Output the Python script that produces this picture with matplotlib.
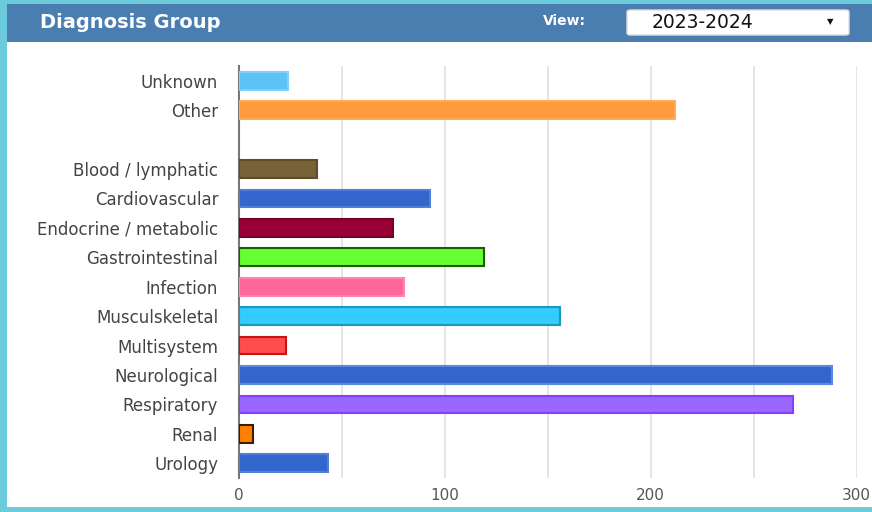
import matplotlib.pyplot as plt
from matplotlib.patches import Rectangle, FancyBboxPatch

# Data
categories = ["Unknown", "Other", "", "Blood / lymphatic", "Cardiovascular",
              "Endocrine / metabolic", "Gastrointestinal", "Infection",
              "Musculskeletal", "Multisystem", "Neurological", "Respiratory",
              "Renal", "Urology"]
values = [24, 212, 0, 38, 93, 75, 119, 80, 156, 23, 288, 269, 7, 43]
colors = ["#5cc2f7", "#ff9b3d", "none", "#786238", "#3366cc", "#990036",
          "#66ff33", "#ff6699", "#33ccff", "#ff4d4d", "#3366cc", "#9966ff",
          "#ff8000", "#3366cc"]
edges = ["#7fd0fa", "#ffab5c", "none", "#5e4c2a", "#4f7fd9", "#7a002b",
         "#1f5c00", "#ff85ad", "#1a98c0", "#cc1111", "#5a8ae0", "#8a3dff",
         "#3d1f00", "#4f7fd9"]
xticks = [0, 100, 200, 300]

fig = plt.figure(figsize=(8.72, 5.12), dpi=100)
fig.patch.set_facecolor("white")

# frame and header band
fig.patches.append(Rectangle((0, 1 - 42 / 512), 1, 38 / 512, transform=fig.transFigure,
                             facecolor="#4a7eb1", edgecolor="none", zorder=1))
fig.patches.append(Rectangle((0, 1 - 4 / 512), 1, 4 / 512, transform=fig.transFigure,
                             facecolor="#6ccbda", edgecolor="none", zorder=2))
fig.patches.append(Rectangle((0, 0), 7 / 872, 1, transform=fig.transFigure,
                             facecolor="#6ccbda", edgecolor="none", zorder=2))
fig.patches.append(Rectangle((0, 0), 1, 5 / 512, transform=fig.transFigure,
                             facecolor="#6ccbda", edgecolor="none", zorder=2))
fig.patches.append(FancyBboxPatch((627 / 872, 1 - 35 / 512), 222 / 872, 25 / 512,
                                  boxstyle="round,pad=0,rounding_size=0.004",
                                  transform=fig.transFigure, facecolor="white",
                                  edgecolor="#dddddd", zorder=3))

fig.text(40 / 872, 1 - 22 / 512, "Diagnosis Group", color="white", fontsize=14,
         fontweight="bold", va="center", ha="left", zorder=4)
fig.text(543 / 872, 1 - 21 / 512, "View:", color="white", fontsize=10,
         fontweight="bold", va="center", ha="left", zorder=4)
fig.text(652 / 872, 1 - 22 / 512, "2023-2024", color="#111111", fontsize=13.5,
         va="center", ha="left", zorder=4)
fig.text(830 / 872, 1 - 22 / 512, "\u25BC", color="#111111", fontsize=6,
         va="center", ha="center", zorder=4)

# chart
ax = fig.add_axes([239 / 872, 34 / 512, 617.5 / 872, 412 / 512])
ax.set_zorder(5)
ax.patch.set_alpha(0)
ypos = list(range(len(categories)))
ax.barh(ypos, values, height=0.6, color=colors, edgecolor=edges, linewidth=1.5, zorder=3)
ax.set_ylim(len(categories) - 0.5, -0.5)
ax.set_xlim(0, 300)
ax.set_yticks(ypos)
ax.set_yticklabels(categories, fontsize=12, color="#444444")
ax.set_xticks(xticks)
ax.set_xticklabels([str(t) for t in xticks], fontsize=11, color="#555555")
ax.set_xticks([50, 150, 250], minor=True)
ax.grid(axis="x", which="both", color="#e0e0e0", linewidth=1.2, zorder=0)
ax.tick_params(axis="y", length=0, which="both", pad=15)
ax.tick_params(axis="x", length=0, which="both", pad=7)
for s in ["top", "right", "bottom"]:
    ax.spines[s].set_visible(False)
ax.spines["left"].set_color("#777777")
ax.spines["left"].set_linewidth(1.5)

fig.savefig("out.png", dpi=100)
